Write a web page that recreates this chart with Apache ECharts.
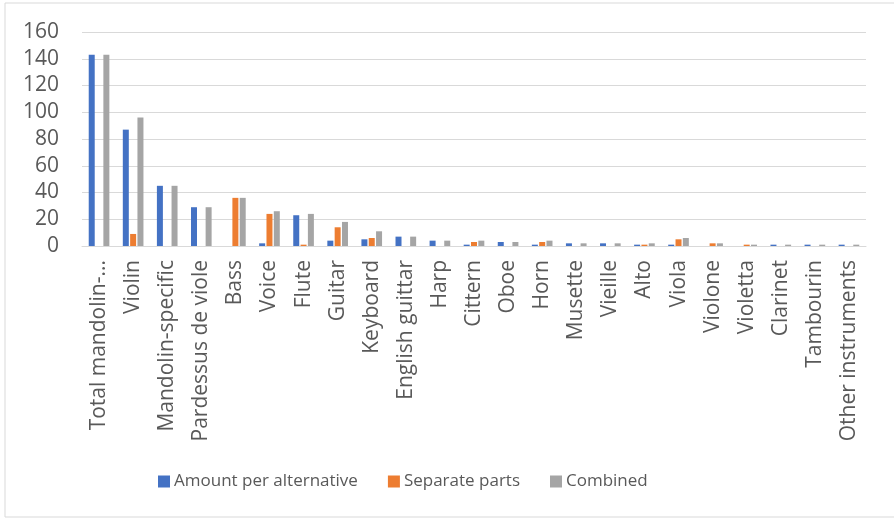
<!DOCTYPE html>
<html>
<head>
<meta charset="utf-8">
<script src="https://cdn.jsdelivr.net/npm/echarts@6/dist/echarts.min.js"></script>
<style>
html, body { margin: 0; padding: 0; background: #fff; }
#chart { width: 894px; height: 518px; }
</style>
</head>
<body>
<div id="chart"></div>
<script>
var categories = ['Total mandolin-...', 'Violin', 'Mandolin-specific', 'Pardessus de viole', 'Bass', 'Voice', 'Flute', 'Guitar', 'Keyboard', 'English guittar', 'Harp', 'Cittern', 'Oboe', 'Horn', 'Musette', 'Vieille', 'Alto', 'Viola', 'Violone', 'Violetta', 'Clarinet', 'Tambourin', 'Other instruments'];
var perAlternative = [143, 87, 45, 29, 0, 2, 23, 4, 5, 7, 4, 1, 3, 1, 2, 2, 1, 1, 0, 0, 1, 1, 1];
var separateParts = [0, 9, 0, 0, 36, 24, 1, 14, 6, 0, 0, 3, 0, 3, 0, 0, 1, 5, 2, 1, 0, 0, 0];
var combined = [143, 96, 45, 29, 36, 26, 24, 18, 11, 7, 4, 4, 3, 4, 2, 2, 2, 6, 2, 1, 1, 1, 1];
var yTicks = [0, 20, 40, 60, 80, 100, 120, 140, 160];

var font = 'Open Sans';
var textColor = '#595959';

var myChart = echarts.init(document.getElementById('chart'));

function barSeries(name, data, color) {
	return {
		name: name,
		type: 'bar',
		data: data,
		barWidth: 6,
		barGap: '22%',
		itemStyle: { color: color }
	};
}

myChart.setOption({
	animation: false,
	graphic: [{
		type: 'rect',
		shape: { x: 5, y: 3, width: 1000, height: 514 },
		style: { fill: 'none', stroke: '#d9d9d9', lineWidth: 1 },
		silent: true
	}],
	legend: {
		left: 153,
		top: 468,
		itemWidth: 12,
		itemHeight: 12,
		itemGap: 30,
		icon: 'rect',
		textStyle: { color: textColor, fontFamily: font, fontSize: 17, padding: [0, 0, 0, -1] },
		data: ['Amount per alternative', 'Separate parts', 'Combined']
	},
	grid: { left: 82, right: 28, top: 32, bottom: 272 },
	xAxis: {
		type: 'category',
		data: categories,
		axisLine: { lineStyle: { color: '#d9d9d9' } },
		axisTick: { show: false },
		axisLabel: {
			rotate: 90,
			interval: 0,
			margin: 14,
			color: textColor,
			fontFamily: font,
			fontSize: 21
		}
	},
	yAxis: {
		type: 'value',
		min: yTicks[0],
		max: yTicks[yTicks.length - 1],
		interval: yTicks[1] - yTicks[0],
		axisLine: { show: false },
		axisTick: { show: false },
		splitLine: { lineStyle: { color: '#d9d9d9', width: 1 } },
		axisLabel: { margin: 23, color: textColor, fontFamily: font, fontSize: 21 }
	},
	series: [
		barSeries('Amount per alternative', perAlternative, '#4472C4'),
		barSeries('Separate parts', separateParts, '#ED7D31'),
		barSeries('Combined', combined, '#A5A5A5')
	]
});
</script>
</body>
</html>
